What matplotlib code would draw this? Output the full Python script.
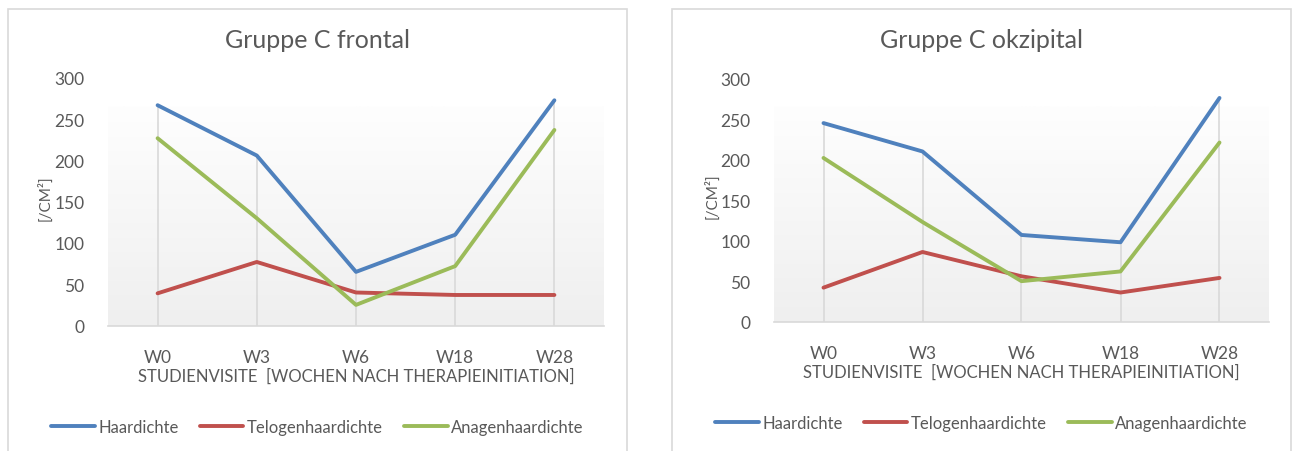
import matplotlib
matplotlib.use("Agg")
import matplotlib.pyplot as plt
import numpy as np
from matplotlib.patches import Rectangle

# Daten
visits = ["W0", "W3", "W6", "W18", "W28"]
series_names = ["Haardichte", "Telogenhaardichte", "Anagenhaardichte"]
colors = ["#4F81BD", "#C0504D", "#9BBB59"]

frontal_haar = [267, 206, 65, 110, 273]
frontal_telogen = [39, 77, 40, 37, 37]
frontal_anagen = [227, 130, 25, 72, 237]

okzipital_haar = [245, 210, 107, 98, 276]
okzipital_telogen = [42, 86, 56, 36, 54]
okzipital_anagen = [202, 123, 50, 62, 221]

yticks = [0, 50, 100, 150, 200, 250, 300]

plt.rcParams['font.family'] = ['Lato', 'DejaVu Sans']
TXT = "#595959"
GRID = "#d9d9d9"

W, H = 1294, 452
fig = plt.figure(figsize=(W / 100, H / 100), dpi=100)


def px(x0, y_top, w, h):
    # Pixel-Box -> Figure-Anteil
    return [x0 / W, 1 - (y_top + h) / H, w / W, h / H]


def panel(box_x0, box_x1, ax_rect, title, data, title_y, xlab_y, leg_y, ylab_x):
    # Rahmen
    fig.patches.append(Rectangle((box_x0 / W, -0.05), (box_x1 - box_x0) / W, 1 - 10 / H + 0.05,
                                 transform=fig.transFigure, fill=False, edgecolor=GRID, lw=1.2))
    ax = fig.add_axes(ax_rect)
    x = np.arange(len(visits))

    # Hintergrund-Verlauf
    grad = np.linspace(0, 1, 100).reshape(-1, 1)
    ax.imshow(grad, extent=(-0.5, 4.5, 0, 266), aspect='auto', origin='upper',
              cmap=matplotlib.colors.LinearSegmentedColormap.from_list("g", ["#fefefe", "#efefef"]),
              zorder=0)

    tops = np.max(np.array(data), axis=0)
    ax.vlines(x, 0, tops, color=GRID, lw=1.2, zorder=1)
    for vals, name, c in zip(data, series_names, colors):
        ax.plot(x, vals, color=c, lw=2.8, label=name, zorder=3, solid_capstyle='round')

    ax.set_xlim(-0.5, 4.5)
    ax.set_ylim(0, 300)
    ax.set_yticks(yticks)
    ax.set_xticks(x)
    ax.set_xticklabels(visits)
    for s in ["top", "right", "left"]:
        ax.spines[s].set_visible(False)
    ax.spines["bottom"].set_color(GRID)
    ax.spines["bottom"].set_linewidth(1.2)
    ax.tick_params(length=0, labelsize=12.5, colors=TXT)
    ax.tick_params(axis='y', pad=17)
    ax.tick_params(axis='x', pad=17)

    cx = (box_x0 + box_x1) / 2 / W
    fig.text(cx, 1 - title_y / H, title, ha='center', va='center', fontsize=18, color=TXT)
    fig.text(ax_rect[0] + ax_rect[2] / 2, 1 - xlab_y / H,
             "STUDIENVISITE  [WOCHEN NACH THERAPIEINITIATION]",
             ha='center', va='center', fontsize=12, color=TXT)
    fig.text(ylab_x / W, ax_rect[1] + ax_rect[3] * 0.52, "[/CM²]", rotation=90,
             ha='center', va='center', fontsize=11, color=TXT)
    fig.legend(*ax.get_legend_handles_labels(), loc='center', ncol=3, frameon=False,
               bbox_to_anchor=(cx, 1 - leg_y / H), fontsize=12, labelcolor=TXT,
               handlelength=2.6, handletextpad=0.2, columnspacing=1.3)
    return ax


panel(8, 627, px(108, 79, 496, 247.5), "Gruppe C frontal",
      [frontal_haar, frontal_telogen, frontal_anagen], 40, 377, 428, 45)
panel(672, 1291, px(774, 79.5, 495, 243.2), "Gruppe C okzipital",
      [okzipital_haar, okzipital_telogen, okzipital_anagen], 40, 373, 424, 712)

fig.savefig("out.png", dpi=100)
